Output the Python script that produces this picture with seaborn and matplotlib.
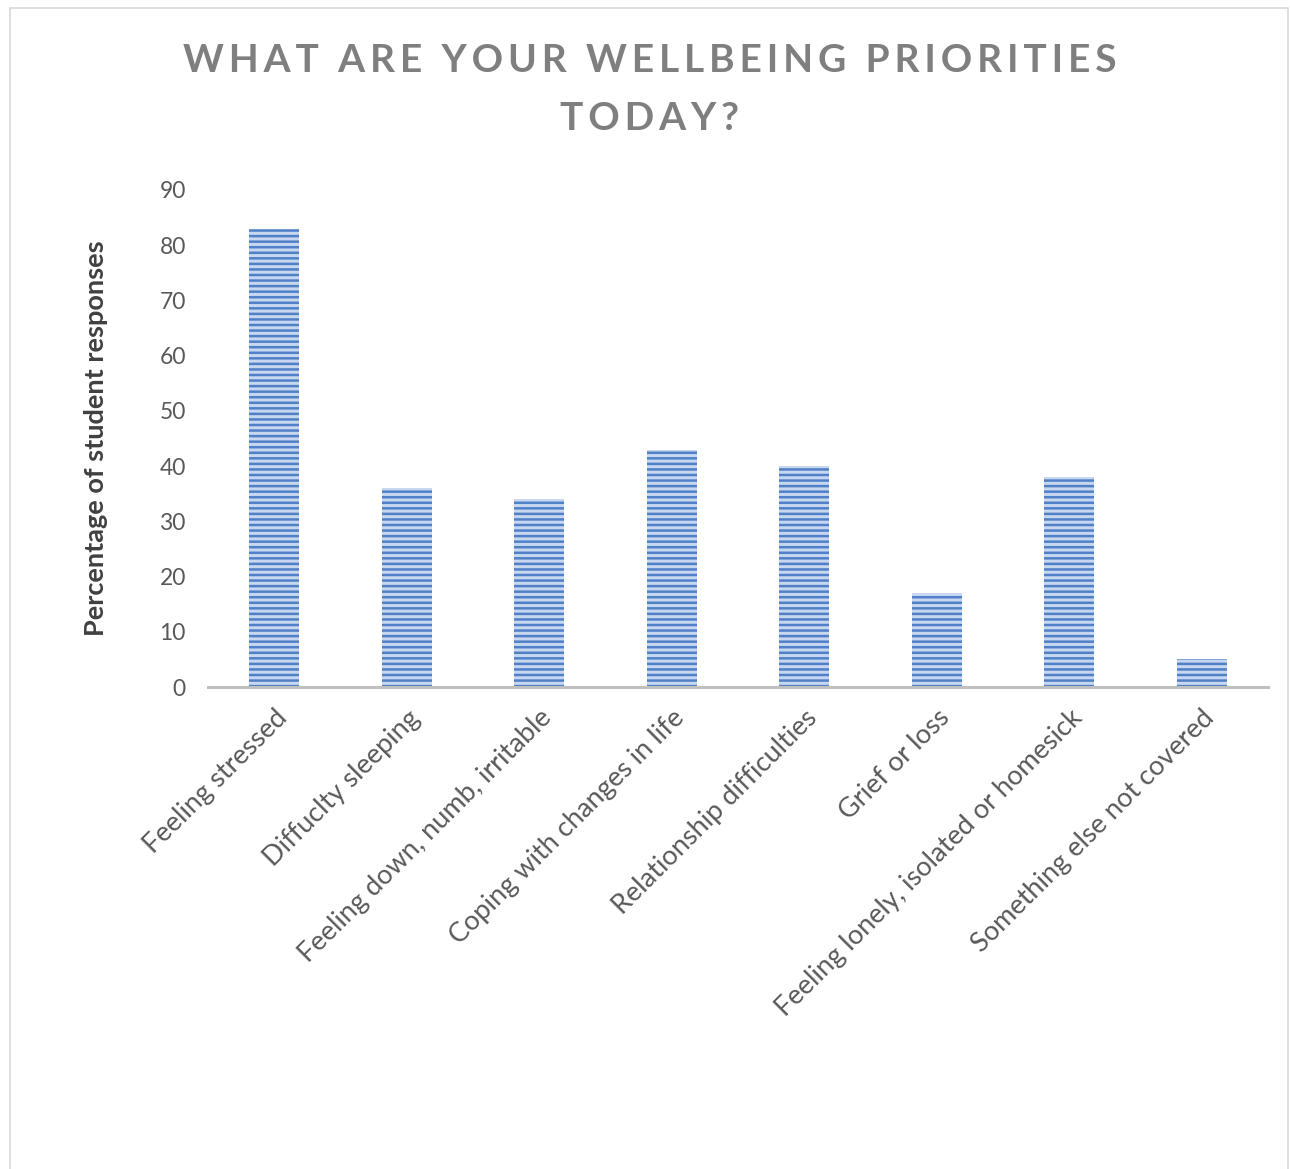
import matplotlib
matplotlib.use("Agg")
import matplotlib.pyplot as plt
import seaborn as sns
import pandas as pd
from matplotlib.patches import Rectangle

categories = ["Feeling stressed", "Diffuclty sleeping", "Feeling down, numb, irritable",
              "Coping with changes in life", "Relationship difficulties", "Grief or loss",
              "Feeling lonely, isolated or homesick", "Something else not covered"]
values = [83, 36, 34, 43, 40, 17, 38, 5]
yticks = [0, 10, 20, 30, 40, 50, 60, 70, 80, 90]

sns.set_style("white")
plt.rcParams['font.family'] = ['Lato', 'DejaVu Sans']
plt.rcParams['hatch.linewidth'] = 1.8

df = pd.DataFrame({"cat": categories, "val": values})

fig = plt.figure(figsize=(12.9, 11.69), dpi=100)
ax = fig.add_axes([208/1290, 1 - 687/1169, (1268-208)/1290, (687-190)/1169])

sns.barplot(data=df, x="cat", y="val", ax=ax, width=0.38, color="#c6d7ef", saturation=1)
for p in ax.patches:
    p.set_hatch("---")
    p.set_edgecolor("#4f80c8")
    p.set_linewidth(0)

ax.set_ylim(0, 90)
ax.set_xlim(-0.5, len(categories) - 0.5)
ax.set_yticks(yticks)
ax.set_yticklabels([str(t) for t in yticks], color="#595959", fontsize=16.5)
ax.set_xticks(range(len(categories)))
ax.set_xticklabels(categories, rotation=45, ha="right", rotation_mode="anchor",
                   color="#595959", fontsize=19.5)
ax.tick_params(axis="y", length=0, pad=16)
ax.tick_params(axis="x", length=0, pad=13)
for s in ["top", "right", "left"]:
    ax.spines[s].set_visible(False)
ax.spines["bottom"].set_color("#bfbfbf")
ax.spines["bottom"].set_linewidth(2.2)
ax.set_xlabel("")
ax.set_ylabel("Percentage of student responses", fontsize=19.5, fontweight="bold",
              color="#404040", labelpad=37)

title1 = "\u2009".join(list("WHAT ARE YOUR WELLBEING PRIORITIES"))
fig.text(650/1290, 1 - 60/1169, title1,
         ha="center", va="center", fontsize=28, fontweight="bold", color="#7f7f7f")
fig.text(650/1290, 1 - 118/1169, "\u2009".join(list("TODAY?")), ha="center", va="center",
         fontsize=28, fontweight="bold", color="#7f7f7f")

fig.patches.append(Rectangle((10/1290, -0.01), (1288-10)/1290, 1 - 8/1169 + 0.01,
                             transform=fig.transFigure, fill=False,
                             edgecolor="#d9d9d9", linewidth=1.2))

fig.savefig("out.png", dpi=100, facecolor="white")
